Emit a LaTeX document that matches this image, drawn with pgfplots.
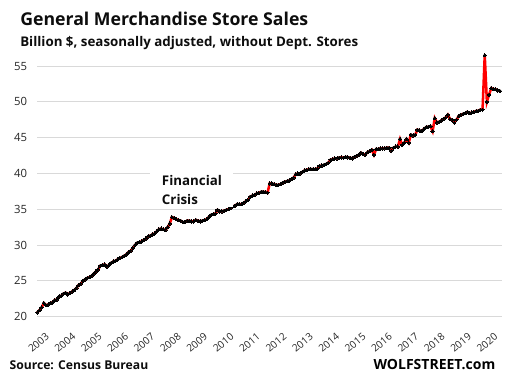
\documentclass[border=0pt]{standalone}
\usepackage{fontspec}
\setmainfont{Open Sans}
\usepackage{graphicx}
\usepackage{pgfplots}
\usepackage{pgfplotstable}
\pgfplotsset{compat=1.18}
\definecolor{gridgray}{HTML}{D9D9D9}
\definecolor{txt}{HTML}{0D0D0D}
\definecolor{ticktxt}{HTML}{262626}
\pgfplotstableread[row sep=\\]{
v\\
20.6\\ 20.9\\ 21.3\\ 21.9\\ 21.6\\ 21.7\\ 21.9\\ 22.0\\ 22.3\\ 22.4\\ 22.8\\ 22.9\\
23.2\\ 23.35\\ 23.1\\ 23.3\\ 23.5\\ 23.7\\ 24.0\\ 24.4\\ 24.6\\ 25.0\\ 25.2\\ 25.4\\
25.5\\ 25.7\\ 26.0\\ 26.3\\ 26.6\\ 27.1\\ 27.2\\ 27.3\\ 27.0\\ 27.2\\ 27.5\\ 27.7\\
27.8\\ 28.0\\ 28.2\\ 28.3\\ 28.5\\ 28.7\\ 29.0\\ 29.2\\ 29.6\\ 30.0\\ 30.3\\ 30.4\\
30.5\\ 30.7\\ 30.9\\ 31.2\\ 31.3\\ 31.5\\ 31.6\\ 31.9\\ 32.2\\ 32.3\\ 32.2\\ 32.1\\
32.5\\ 33.0\\ 33.9\\ 33.8\\ 33.6\\ 33.5\\ 33.4\\ 33.2\\ 33.2\\ 33.4\\ 33.4\\ 33.3\\
33.3\\ 33.5\\ 33.4\\ 33.3\\ 33.4\\ 33.5\\ 33.6\\ 33.9\\ 34.2\\ 34.3\\ 34.4\\ 34.9\\
34.7\\ 34.7\\ 34.8\\ 34.9\\ 35.0\\ 35.2\\ 35.4\\ 35.5\\ 35.7\\ 35.7\\ 35.7\\ 35.9\\
36.1\\ 36.3\\ 36.75\\ 36.9\\ 37.0\\ 37.2\\ 37.3\\ 37.4\\ 37.45\\ 37.4\\ 37.3\\ 38.6\\
38.6\\ 38.5\\ 38.4\\ 38.4\\ 38.5\\ 38.7\\ 38.85\\ 38.9\\ 39.0\\ 39.2\\ 39.4\\ 39.9\\
40.0\\ 40.0\\ 40.2\\ 40.4\\ 40.5\\ 40.6\\ 40.6\\ 40.6\\ 40.6\\ 40.7\\ 41.05\\ 41.1\\
41.2\\ 41.3\\ 41.5\\ 41.9\\ 42.0\\ 42.1\\ 42.1\\ 42.2\\ 42.25\\ 42.2\\ 42.3\\ 42.25\\
42.2\\ 42.1\\ 42.3\\ 42.45\\ 42.6\\ 42.9\\ 42.7\\ 42.6\\ 42.95\\ 43.1\\ 43.3\\ 42.6\\
43.4\\ 43.4\\ 43.5\\ 43.5\\ 43.5\\ 43.6\\ 43.6\\ 43.15\\ 43.6\\ 43.75\\ 43.75\\ 44.8\\
44.0\\ 44.3\\ 44.8\\ 44.3\\ 45.4\\ 45.3\\ 45.4\\ 46.1\\ 46.0\\ 45.9\\ 46.2\\ 46.45\\
46.5\\ 46.6\\ 45.9\\ 47.7\\ 47.1\\ 47.2\\ 47.4\\ 47.6\\ 47.8\\ 48.2\\ 47.6\\ 47.5\\
47.1\\ 47.5\\ 48.0\\ 48.2\\ 48.3\\ 48.4\\ 48.6\\ 48.4\\ 48.5\\ 48.6\\ 48.7\\ 48.75\\
48.9\\ 48.9\\ 56.5\\ 50.0\\ 51.0\\ 51.9\\ 51.8\\ 51.75\\ 51.6\\ 51.5\\
}\salesdata

\begin{document}
\begin{tikzpicture}
\path[use as bounding box] (0,0) rectangle (378.75pt,288pt);
\begin{axis}[
  at={(27.975pt,50.475pt)}, anchor=south west,
  scale only axis, width=348.6pt, height=198.75pt,
  xmin=0, xmax=214, ymin=20, ymax=57,
  ytick={20,25,30,35,40,45,50,55},
  xtick={3.6,15.75,27.9,40.05,52.2,64.35,76.5,88.65,100.8,112.95,125.1,137.25,149.4,161.55,173.7,185.85,198.0,210.15},
  xticklabels={2003,2004,2005,2006,2007,2008,2009,2010,2011,2012,2013,2014,2015,2016,2017,2018,2019,2020},
  ymajorgrids, grid style={gridgray, line width=0.75pt},
  axis line style={draw=none}, major tick length=0pt,
  /pgf/number format/assume math mode=true,
  yticklabel style={font=\fontsize{8.5pt}{10pt}\selectfont, text=ticktxt, inner sep=0pt, xshift=-7.5pt},
  xticklabel style={font=\fontsize{7.6pt}{9pt}\selectfont, text=ticktxt, inner sep=0pt, text height=5.5pt, text depth=0pt, rotate=40, anchor=north east},
  xticklabel shift=11.5pt,
  clip=false,
]
\addplot[red, line width=1.9pt, mark=*, mark size=1.25pt, mark options={black, fill=black, draw=black, line width=0pt}]
  table[x expr=\coordindex, y=v]{\salesdata};
\end{axis}
\begin{scope}[x=0.75pt, y=-0.75pt, yshift=288pt]
  \fill[white] (150,166) rectangle (233,207);
  \node[anchor=base west, inner sep=0pt, text=txt] at (20,26)
    {\resizebox{216pt}{!}{\fontsize{13pt}{15pt}\selectfont\bfseries General Merchandise Store Sales}};
  \node[anchor=base west, inner sep=0pt, text=txt] at (20,46.7)
    {\resizebox{253.5pt}{!}{\fontsize{10.5pt}{12pt}\selectfont\bfseries Billion \$, seasonally adjusted, without Dept. Stores}};
  \node[anchor=base west, inner sep=0pt, text=txt] at (161.7,186)
    {\fontsize{10pt}{12pt}\selectfont\bfseries Financial};
  \node[anchor=base west, inner sep=0pt, text=txt] at (161.7,204.3)
    {\fontsize{10pt}{12pt}\selectfont\bfseries Crisis};
  \node[anchor=base west, inner sep=0pt, text=txt] at (9.3,370)
    {\resizebox{104pt}{!}{\fontsize{10pt}{12pt}\selectfont\bfseries Source: Census Bureau}};
  \node[anchor=base west, inner sep=0pt, text=black] at (373.3,370)
    {\resizebox{91.3pt}{!}{\fontsize{10pt}{12pt}\selectfont\bfseries WOLFSTREET.com}};
\end{scope}
\end{tikzpicture}
\end{document}
